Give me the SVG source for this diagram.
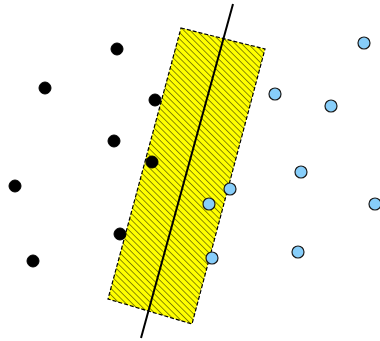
<svg xmlns="http://www.w3.org/2000/svg" width="380" height="341" viewBox="0 0 380 341">
<style>
.neg{fill:#000;stroke:#000;stroke-width:1}
.pos{fill:#87cefa;stroke:#1a1a1a;stroke-width:1.2}
</style>
<defs>
<pattern id="hatch" patternUnits="userSpaceOnUse" width="4.5" height="4.5" patternTransform="rotate(-45)">
<rect width="4.5" height="4.5" fill="#ffff00"/>
<line x1="0" y1="0" x2="0" y2="4.5" stroke="#4d4d00" stroke-width="1.3"/>
</pattern>
</defs>
<g id="margin">
<polygon points="181,28 265,49 192,324 108,299" fill="url(#hatch)" stroke="#000" stroke-width="1.2" stroke-dasharray="4,2"/>
</g>
<g id="connectors">
<line x1="233" y1="4" x2="141" y2="338" stroke="#000" stroke-width="2"/>
</g>
<g id="negatives">
<circle class="neg" cx="117" cy="49" r="6"/>
<circle class="neg" cx="45" cy="88" r="6"/>
<circle class="neg" cx="155" cy="100" r="6"/>
<circle class="neg" cx="114" cy="141" r="6"/>
<circle class="neg" cx="152" cy="162" r="6"/>
<circle class="neg" cx="15" cy="186" r="6"/>
<circle class="neg" cx="120" cy="234" r="6"/>
<circle class="neg" cx="33" cy="261" r="6"/>
</g>
<g id="positives">
<circle class="pos" cx="364" cy="43" r="6"/>
<circle class="pos" cx="275" cy="94" r="6"/>
<circle class="pos" cx="331" cy="106" r="6"/>
<circle class="pos" cx="301" cy="172" r="6"/>
<circle class="pos" cx="230" cy="189" r="6"/>
<circle class="pos" cx="209" cy="204" r="6"/>
<circle class="pos" cx="375" cy="204" r="6"/>
<circle class="pos" cx="212" cy="258" r="6"/>
<circle class="pos" cx="298" cy="252" r="6"/>
</g>
</svg>
